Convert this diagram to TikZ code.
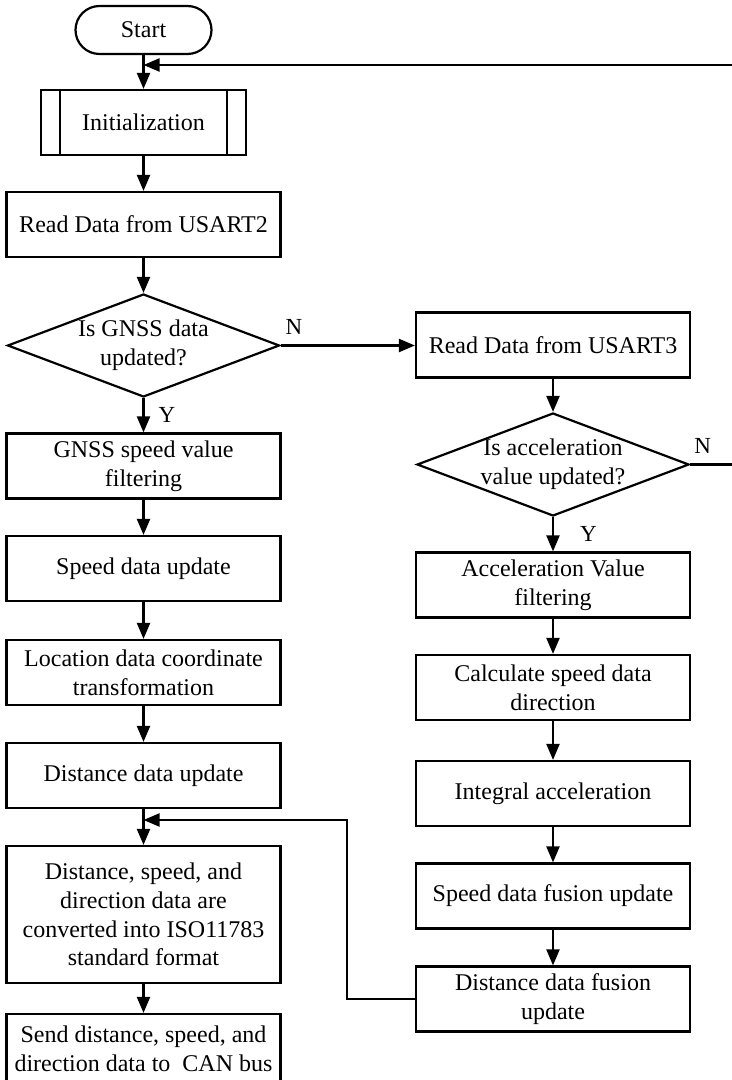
\documentclass[tikz,border=0pt]{standalone}
\usepackage{fontspec}
\setmainfont{Liberation Serif}
\usetikzlibrary{positioning,arrows.meta,shapes.geometric}

\tikzset{
  box/.style={draw, line width=1.1pt, minimum width=137pt, minimum height=32.5pt,
    inner sep=1pt, align=center, font=\fontsize{12}{14.4}\selectfont},
  decide/.style={draw, diamond, aspect=2.64, inner sep=-3pt, minimum width=136pt,
    minimum height=51.5pt, line width=1.1pt, align=center, font=\fontsize{12}{14.4}\selectfont},
  flow/.style={line width=1.1pt, -{Triangle[length=8pt,width=6.5pt]}},
  lbl/.style={font=\fontsize{11.5}{13}\selectfont, inner sep=2pt}
}

\begin{document}
\begin{tikzpicture}[x=0.5pt, y=-0.5pt]
\useasboundingbox (0,0) rectangle (732,1080);

% left column
\node[draw, line width=1.1pt, minimum width=68pt, minimum height=24pt, rounded corners=12pt,
  font=\fontsize{12}{14.4}\selectfont] (start) at (143.5,30) {Start};
\node[box, minimum width=102.5pt] (init) at (143.5,122.5) {Initialization};
\draw[line width=1.1pt] ([xshift=10pt]init.north west) -- ([xshift=10pt]init.south west);
\draw[line width=1.1pt] ([xshift=-10pt]init.north east) -- ([xshift=-10pt]init.south east);
\node[box] (usart2) at (143.5,224.5) {Read Data from USART2};
\node[decide] (gnssq) at (143.5,345.5) {Is GNSS data\\updated?};
\node[box] (gnss) at (143.5,466) {GNSS speed value\\filtering};
\node[box] (spd) at (143.5,568.5) {Speed data update};
\node[box] (loc) at (143.5,672.5) {Location data coordinate\\transformation};
\node[box] (dupd) at (143.5,775.5) {Distance data update};
\node[box, minimum height=68.5pt] (conv) at (143.5,914.5)
  {Distance, speed, and\\direction data are\\converted into ISO11783\\standard format};
\node[box, minimum height=35pt] (send) at (143.5,1049)
  {Send distance, speed, and\\direction data to~~CAN bus};

% right column
\node[box] (usart3) at (553,345) {Read Data from USART3};
\node[decide] (accq) at (553,464.5) {Is acceleration\\value updated?};
\node[box] (afil) at (553,585) {Acceleration Value\\filtering};
\node[box] (calc) at (553,687.5) {Calculate speed data\\direction};
\node[box] (integ) at (553,793.5) {Integral acceleration};
\node[box] (sfus) at (553,896) {Speed data fusion update};
\node[box] (dfus) at (553,999) {Distance data fusion\\update};

\coordinate (loop) at (143.5,65);
\coordinate (fb) at (143.5,820);
\coordinate (edge) at (745,0);

% connectors
\draw[flow] (start) -- (init);
\draw[flow] (init) -- (usart2);
\draw[flow] (usart2) -- (gnssq);
\draw[flow] (gnssq) -- node[lbl, midway, right=5pt] {Y} (gnss);
\draw[flow] (gnssq.east) -- node[lbl, pos=0.1, above=3pt] {N} (gnssq.east -| usart3.west);
\draw[flow] (gnss) -- (spd);
\draw[flow] (spd) -- (loc);
\draw[flow] (loc) -- (dupd);
\draw[flow] (dupd) -- (conv);
\draw[flow] (conv) -- (send);
\draw[flow] (usart3) -- (accq);
\draw[flow] (accq) -- node[lbl, midway, right=11pt] {Y} (afil);
\draw[flow] (afil) -- (calc);
\draw[flow] (calc) -- (integ);
\draw[flow] (integ) -- (sfus);
\draw[flow] (sfus) -- (dfus);
\draw[flow] (accq.east) -- node[lbl, pos=0.23, above=3pt] {N} (accq.east -| edge) |- (loop);
\draw[flow] (dfus.west) -- ++(-68,0) |- (fb);
\end{tikzpicture}
\end{document}
